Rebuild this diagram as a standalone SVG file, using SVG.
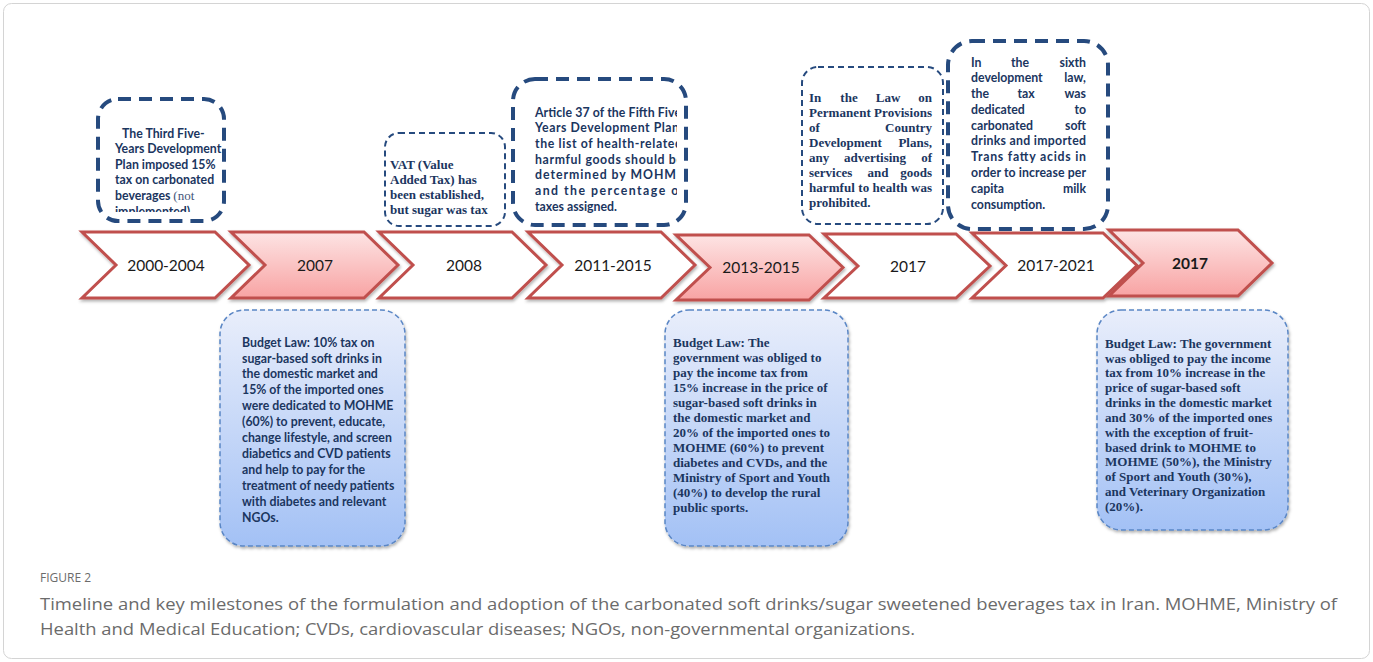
<svg xmlns="http://www.w3.org/2000/svg" width="1373" height="662" viewBox="0 0 1373 662">
<defs>
  <linearGradient id="pink" x1="0" y1="0" x2="0" y2="1">
    <stop offset="0" stop-color="#fde4e4"/>
    <stop offset="1" stop-color="#f8a3a3"/>
  </linearGradient>
  <linearGradient id="blue" x1="0" y1="0" x2="0" y2="1">
    <stop offset="0" stop-color="#e9eefb"/>
    <stop offset="1" stop-color="#a3c1f5"/>
  </linearGradient>
  <filter id="sh" x="-10%" y="-10%" width="120%" height="130%">
    <feDropShadow dx="1" dy="2" stdDeviation="1.5" flood-color="#000" flood-opacity="0.3"/>
  </filter>
  <clipPath id="c1"><rect x="100" y="100" width="122" height="112"/></clipPath>
  <clipPath id="c3"><rect x="515" y="82" width="162" height="143"/></clipPath>
</defs>
<style>
  .chev{stroke:#c0504d;stroke-width:3;stroke-linejoin:miter;filter:url(#sh)}
  .cw{fill:#ffffff}
  .cp{fill:url(#pink)}
  .yr{font-family:Lato,"Liberation Sans",sans-serif;font-size:15.5px;fill:#1a1a1a;text-anchor:middle}
  .thick{fill:#ffffff;stroke:#264a7e;stroke-width:4;stroke-dasharray:13 8}
  .thin{fill:#ffffff;stroke:#264a7e;stroke-width:2;stroke-dasharray:6 4}
  .bbox{fill:url(#blue);stroke:#5a86c5;stroke-width:1.5;stroke-dasharray:5 3;filter:url(#sh)}
  .cal{font-family:Lato,"Liberation Sans",sans-serif;font-weight:bold;font-size:12.3px;fill:#1b365f}
  .tim{font-family:"Liberation Serif","Times New Roman",serif;font-weight:bold;font-size:13px;fill:#1b365f}
  .e{text-anchor:end}
  .m{text-anchor:middle}
  .cap{font-family:"Open Sans","Liberation Sans",sans-serif;fill:#6b6b6b}
</style>
<rect x="3.5" y="3.5" width="1366" height="655" rx="8" fill="#ffffff" stroke="#d4d4d4" stroke-width="1"/>

<g id="timeline">
  <g id="ch1"><polygon class="chev cw" points="82,232 215,232 249,265 215,298 82,298 116,265"/><text class="yr" x="166" y="271">2000-2004</text></g>
  <g id="ch2"><polygon class="chev cp" points="231,232 364,232 398,265 364,298 231,298 265,265"/><text class="yr" x="315" y="271">2007</text></g>
  <g id="ch3"><polygon class="chev cw" points="379,232 512,232 546,265 512,298 379,298 413,265"/><text class="yr" x="464" y="271">2008</text></g>
  <g id="ch4"><polygon class="chev cw" points="528,232 661,232 695,265 661,298 528,298 562,265"/><text class="yr" x="613" y="271">2011-2015</text></g>
  <g id="ch5"><polygon class="chev cp" points="676,235 809,235 843,267.5 809,300 676,300 710,267.5"/><text class="yr" x="761" y="273">2013-2015</text></g>
  <g id="ch6"><polygon class="chev cw" points="824,234 956,234 990,266 956,298 824,298 858,266"/><text class="yr" x="908" y="272">2017</text></g>
  <g id="ch7"><polygon class="chev cw" points="972,233 1103,233 1137,265.5 1103,298 972,298 1006,265.5"/><text class="yr" x="1056" y="271">2017-2021</text></g>
  <g id="ch8"><polygon class="chev cp" points="1109,230 1238,230 1272,263 1238,296 1109,296 1143,263"/><text class="yr" x="1190" y="269" font-weight="bold">2017</text></g>
</g>

<g id="top1">
  <rect class="thick" x="98" y="99" width="126" height="122" rx="20"/>
  <g clip-path="url(#c1)">
    <text class="cal" x="122" y="138">The Third Five-</text>
    <text class="cal" x="115" y="153">Years Development</text>
    <text class="cal" x="115" y="169">Plan imposed 15%</text>
    <text class="cal" x="115" y="184">tax on carbonated</text>
    <text class="cal" x="115" y="200">beverages <tspan font-family="Liberation Serif,serif" font-weight="normal" font-size="13px" fill="#44577a">(not</tspan></text>
    <text class="cal" x="115" y="216" font-family="Liberation Serif,serif" font-weight="normal" font-size="13px" fill="#44577a">implemented)</text>
  </g>
</g>

<g id="top2">
  <rect class="thin" x="385" y="133" width="120" height="93" rx="14"/>
  <text class="tim" x="390" y="169">VAT (Value</text>
  <text class="tim" x="390" y="184">Added Tax) has</text>
  <text class="tim" x="390" y="199">been established,</text>
  <text class="tim" x="390" y="214">but sugar was tax</text>
</g>

<g id="top3">
  <rect class="thick" x="513" y="79" width="173" height="146" rx="22"/>
  <g clip-path="url(#c3)">
    <text class="cal" x="535" y="117" textLength="146" lengthAdjust="spacing">Article 37 of the Fifth Five</text>
    <text class="cal" x="535" y="132" textLength="144" lengthAdjust="spacing">Years Development Plan</text>
    <text class="cal" x="535" y="148" textLength="147" lengthAdjust="spacing">the list of health-related</text>
    <text class="cal" x="535" y="164" textLength="148" lengthAdjust="spacing">harmful goods should be</text>
    <text class="cal" x="535" y="179" textLength="149" lengthAdjust="spacing">determined by MOHME</text>
    <text class="cal" x="535" y="195" textLength="149" lengthAdjust="spacing">and the percentage of</text>
    <text class="cal" x="535" y="211">taxes assigned.</text>
  </g>
</g>

<g id="top4">
  <rect class="thin" x="802" y="67" width="141" height="157" rx="16"/>
  <text class="tim" y="102"><tspan x="809">In</tspan><tspan class="m" x="849">the</tspan><tspan class="m" x="888">Law</tspan><tspan class="e" x="932">on</tspan></text>
  <text class="tim" x="809" y="117" textLength="123" lengthAdjust="spacing">Permanent Provisions</text>
  <text class="tim" y="132"><tspan x="809">of</tspan><tspan class="e" x="932">Country</tspan></text>
  <text class="tim" y="147"><tspan x="809">Development</tspan><tspan class="e" x="932">Plans,</tspan></text>
  <text class="tim" y="162"><tspan x="809">any</tspan><tspan class="m" x="875">advertising</tspan><tspan class="e" x="932">of</tspan></text>
  <text class="tim" y="177"><tspan x="809">services</tspan><tspan class="m" x="878">and</tspan><tspan class="e" x="932">goods</tspan></text>
  <text class="tim" x="809" y="192" textLength="123" lengthAdjust="spacing">harmful to health was</text>
  <text class="tim" x="809" y="207">prohibited.</text>
</g>

<g id="top5">
  <rect class="thick" x="948" y="41" width="160" height="188" rx="24"/>
  <text class="cal" y="67"><tspan x="971">In</tspan><tspan class="m" x="1020">the</tspan><tspan class="e" x="1086">sixth</tspan></text>
  <text class="cal" y="82"><tspan x="971">development</tspan><tspan class="e" x="1086">law,</tspan></text>
  <text class="cal" y="98"><tspan x="971">the</tspan><tspan class="m" x="1026">tax</tspan><tspan class="e" x="1086">was</tspan></text>
  <text class="cal" y="114"><tspan x="971">dedicated</tspan><tspan class="e" x="1086">to</tspan></text>
  <text class="cal" y="130"><tspan x="971">carbonated</tspan><tspan class="e" x="1086">soft</tspan></text>
  <text class="cal" x="971" y="145" textLength="115" lengthAdjust="spacing">drinks and imported</text>
  <text class="cal" x="971" y="161" textLength="115" lengthAdjust="spacing">Trans fatty acids in</text>
  <text class="cal" x="971" y="177" textLength="115" lengthAdjust="spacing">order to increase per</text>
  <text class="cal" y="193"><tspan x="971">capita</tspan><tspan class="e" x="1086">milk</tspan></text>
  <text class="cal" x="971" y="209">consumption.</text>
</g>

<g id="bottom1">
  <rect class="bbox" x="220" y="310" width="185" height="236" rx="24"/>
  <text class="cal" x="242" y="347">Budget Law:  10% tax on</text>
  <text class="cal" x="242" y="363">sugar-based soft drinks in</text>
  <text class="cal" x="242" y="378">the domestic market and</text>
  <text class="cal" x="242" y="394">15% of the imported ones</text>
  <text class="cal" x="242" y="410">were dedicated to MOHME</text>
  <text class="cal" x="242" y="426">(60%) to prevent, educate,</text>
  <text class="cal" x="242" y="442">change lifestyle, and screen</text>
  <text class="cal" x="242" y="458">diabetics and CVD patients</text>
  <text class="cal" x="242" y="474">and help to pay for the</text>
  <text class="cal" x="242" y="490">treatment of needy patients</text>
  <text class="cal" x="242" y="506">with diabetes and relevant</text>
  <text class="cal" x="242" y="522">NGOs.</text>
</g>

<g id="bottom2">
  <rect class="bbox" x="665" y="310" width="183" height="236" rx="24"/>
  <text class="tim" x="673" y="347">Budget Law: The</text>
  <text class="tim" x="673" y="362">government was obliged to</text>
  <text class="tim" x="673" y="377">pay the income tax from</text>
  <text class="tim" x="673" y="392">15% increase in the price of</text>
  <text class="tim" x="673" y="407">sugar-based soft drinks in</text>
  <text class="tim" x="673" y="422">the domestic market and</text>
  <text class="tim" x="673" y="437">20% of the imported ones to</text>
  <text class="tim" x="673" y="452">MOHME (60%) to prevent</text>
  <text class="tim" x="673" y="467">diabetes and CVDs, and the</text>
  <text class="tim" x="673" y="482">Ministry of Sport and Youth</text>
  <text class="tim" x="673" y="497">(40%) to  develop the rural</text>
  <text class="tim" x="673" y="512">public sports.</text>
</g>

<g id="bottom3">
  <rect class="bbox" x="1097" y="310" width="191" height="220" rx="24"/>
  <text class="tim" x="1105" y="348">Budget Law: The government</text>
  <text class="tim" x="1105" y="363">was obliged to pay the income</text>
  <text class="tim" x="1105" y="377">tax from 10% increase in the</text>
  <text class="tim" x="1105" y="392">price of sugar-based soft</text>
  <text class="tim" x="1105" y="407">drinks in the domestic market</text>
  <text class="tim" x="1105" y="422">and 30% of the imported ones</text>
  <text class="tim" x="1105" y="437">with the exception of fruit-</text>
  <text class="tim" x="1105" y="452">based drink to MOHME  to</text>
  <text class="tim" x="1105" y="466">MOHME (50%), the Ministry</text>
  <text class="tim" x="1105" y="481">of Sport and Youth (30%),</text>
  <text class="tim" x="1105" y="496">and Veterinary Organization</text>
  <text class="tim" x="1105" y="511">(20%).</text>
</g>

<g id="caption">
  <text class="cap" x="40" y="582" font-size="12px">FIGURE 2</text>
  <text class="cap" x="40" y="610" font-size="17px" textLength="1297" lengthAdjust="spacingAndGlyphs">Timeline and key milestones of the formulation and adoption of the carbonated soft drinks/sugar sweetened beverages tax in Iran. MOHME, Ministry of</text>
  <text class="cap" x="40" y="635" font-size="17px" textLength="875" lengthAdjust="spacingAndGlyphs">Health and Medical Education; CVDs, cardiovascular diseases; NGOs, non-governmental organizations.</text>
</g>
</svg>
